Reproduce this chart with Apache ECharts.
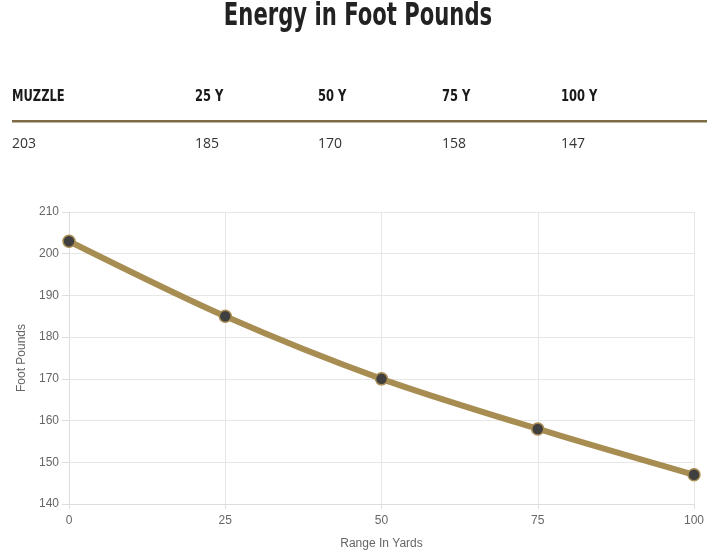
<!DOCTYPE html>
<html><head><meta charset="utf-8">
<script src="https://cdn.jsdelivr.net/npm/echarts@6/dist/echarts.min.js"></script>
<style>html,body{margin:0;padding:0;background:#fff}#c{width:727px;height:560px}</style>
</head><body><div id="c"></div>
<script>
const titleText = "Energy in Foot Pounds";
const headers = ["MUZZLE", "25 Y", "50 Y", "75 Y", "100 Y"];
const ranges = [0, 25, 50, 75, 100];
const energy = [203, 185, 170, 158, 147];
const colX = [12, 195, 318, 442, 561];

const chart = echarts.init(document.getElementById('c'));
const graphics = [];
graphics.push({type:'text', x: 358, y: 17, scaleX: 0.735, scaleY: 1,
  style:{text:titleText, textAlign:'center', textVerticalAlign:'middle', font:'bold 32px "DejaVu Sans Condensed", "DejaVu Sans", sans-serif', fill:'#222'}});
headers.forEach((h, i) => {
  graphics.push({type:'text', x: colX[i], y: 97, scaleX: 0.8,
    style:{text:h, textVerticalAlign:'middle', font:'bold 16px "DejaVu Sans Condensed", "DejaVu Sans", sans-serif', fill:'#1a1a1a'}});
  graphics.push({type:'text', x: colX[i], y: 144,
    style:{text:String(energy[i]), textVerticalAlign:'middle', font:'14px "Open Sans", sans-serif', fill:'#333'}});
});
graphics.push({type:'rect', shape:{x:12, y:120, width:695, height:2.5}, style:{fill:'#7d6c46'}});

chart.setOption({
  animation:false,
  graphic: graphics,
  grid:{left:69, right:33, top:212, bottom:56},
  xAxis:{type:'value', min:0, max:100, interval:25,
    name:'Range In Yards', nameLocation:'middle', nameGap:34,
    nameTextStyle:{color:'#666', fontSize:12, fontFamily:'"Liberation Sans", Arial, sans-serif'},
    axisLine:{show:true, lineStyle:{color:'#ddd'}},
    axisTick:{show:true, length:5, lineStyle:{color:'#ddd'}},
    axisLabel:{color:'#666', fontSize:12, margin:11, fontFamily:'"Liberation Sans", Arial, sans-serif'},
    splitLine:{show:true, lineStyle:{color:'#e6e6e6'}}},
  yAxis:{type:'value', min:140, max:210, interval:10,
    name:'Foot Pounds', nameLocation:'middle', nameGap:41, nameRotate:90,
    nameTextStyle:{color:'#666', fontSize:12, fontFamily:'"Liberation Sans", Arial, sans-serif'},
    axisLine:{show:true, lineStyle:{color:'#ddd'}},
    axisTick:{show:true, length:7, lineStyle:{color:'#ddd'}},
    axisLabel:{color:'#666', fontSize:12, margin:10, fontFamily:'"Liberation Sans", Arial, sans-serif'},
    splitLine:{show:true, lineStyle:{color:'#e6e6e6'}}},
  series:[{type:'line', data: ranges.map((r,i)=>[r, energy[i]]), smooth:0.3,
    lineStyle:{color:'#a88d52', width:6},
    symbol:'circle', symbolSize:12,
    itemStyle:{color:'#3f3f3f', borderColor:'#a88d52', borderWidth:1.5}}]
});
</script></body></html>
